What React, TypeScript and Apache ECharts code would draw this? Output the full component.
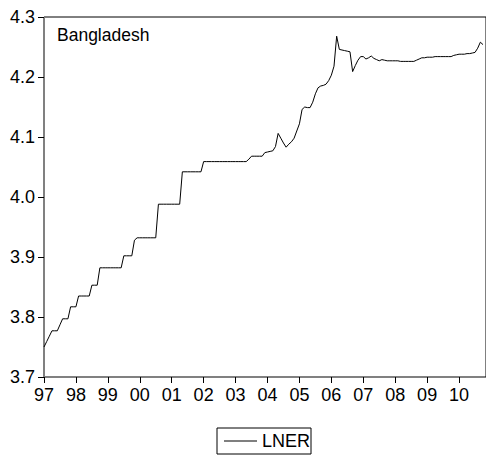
import React, { useEffect, useRef } from "react";
import * as echarts from "echarts";

const seriesName = "LNER";
const title = "Bangladesh";
const startYear = 1997;
const yTicks = [3.7, 3.8, 3.9, 4.0, 4.1, 4.2, 4.3];

// Monthly values, January..December per year
const v1997 = [3.750, 3.759, 3.768, 3.777, 3.777, 3.777, 3.787, 3.797, 3.797, 3.797, 3.817, 3.817];
const v1998 = [3.817, 3.835, 3.835, 3.835, 3.835, 3.835, 3.853, 3.853, 3.853, 3.882, 3.882, 3.882];
const v1999 = [3.882, 3.882, 3.882, 3.882, 3.882, 3.882, 3.902, 3.902, 3.902, 3.902, 3.928, 3.932];
const v2000 = [3.932, 3.932, 3.932, 3.932, 3.932, 3.932, 3.932, 3.988, 3.988, 3.988, 3.988, 3.988];
const v2001 = [3.988, 3.988, 3.988, 3.988, 4.042, 4.042, 4.042, 4.042, 4.042, 4.042, 4.042, 4.042];
const v2002 = [4.059, 4.059, 4.059, 4.059, 4.059, 4.059, 4.059, 4.059, 4.059, 4.059, 4.059, 4.059];
const v2003 = [4.059, 4.059, 4.059, 4.059, 4.059, 4.063, 4.068, 4.068, 4.068, 4.068, 4.068, 4.074];
const v2004 = [4.075, 4.076, 4.077, 4.084, 4.106, 4.098, 4.090, 4.083, 4.088, 4.092, 4.098, 4.110];
const v2005 = [4.122, 4.146, 4.150, 4.149, 4.149, 4.158, 4.172, 4.182, 4.185, 4.186, 4.188, 4.194];
const v2006 = [4.203, 4.218, 4.268, 4.246, 4.245, 4.244, 4.243, 4.242, 4.209, 4.219, 4.228, 4.234];
const v2007 = [4.234, 4.230, 4.232, 4.235, 4.231, 4.229, 4.227, 4.229, 4.228, 4.227, 4.227, 4.227];
const v2008 = [4.227, 4.227, 4.226, 4.226, 4.226, 4.226, 4.226, 4.226, 4.228, 4.230, 4.232, 4.232];
const v2009 = [4.233, 4.233, 4.233, 4.234, 4.234, 4.234, 4.234, 4.234, 4.234, 4.234, 4.236, 4.237];
const v2010 = [4.238, 4.238, 4.238, 4.239, 4.239, 4.240, 4.241, 4.248, 4.258, 4.254];

const years = [v1997, v1998, v1999, v2000, v2001, v2002, v2003, v2004, v2005, v2006, v2007, v2008, v2009, v2010];

const FONT = "'Liberation Sans', Arial, sans-serif";

export default function App() {
  const ref = useRef<HTMLDivElement>(null);
  useEffect(() => {
    if (!ref.current) return;
    const chart = echarts.init(ref.current, undefined, { renderer: "svg" });
    const data: [number, number][] = [];
    years.forEach((arr, yi) => {
      arr.forEach((v, m) => data.push([startYear + yi + m / 12, v]));
    });
    chart.setOption({
      animation: false,
      backgroundColor: "#ffffff",
      grid: {
        left: 44,
        top: 17,
        right: -1,
        bottom: 80,
        show: true,
        borderColor: "#000",
        borderWidth: 1,
        backgroundColor: "transparent",
      },
      xAxis: {
        type: "value",
        min: 1997,
        max: 2010.84375,
        interval: 1,
        axisLine: { show: true, lineStyle: { color: "#808080", width: 1 } },
        axisTick: { show: true, inside: false, length: 6, lineStyle: { color: "#000" } },
        splitLine: { show: false },
        axisLabel: {
          color: "#000",
          fontSize: 18,
          fontFamily: FONT,
          margin: 9,
          showMaxLabel: false,
          formatter: (v: number) => String(Math.round(v) % 100).padStart(2, "0"),
        },
      },
      yAxis: {
        type: "value",
        min: yTicks[0],
        max: yTicks[yTicks.length - 1],
        interval: 0.1,
        axisLine: { show: true, lineStyle: { color: "#808080", width: 1 } },
        axisTick: { show: true, inside: false, length: 6, lineStyle: { color: "#000" } },
        splitLine: { show: false },
        axisLabel: {
          color: "#000",
          fontSize: 18,
          fontFamily: FONT,
          margin: 9,
          formatter: (v: number) => v.toFixed(1),
        },
      },
      legend: {
        show: true,
        left: 217,
        top: 428,
        orient: "horizontal",
        padding: [4, 1, 4, 7],
        borderColor: "#000",
        borderWidth: 1,
        borderRadius: 0,
        itemWidth: 33,
        itemHeight: 1,
        itemGap: 0,
        icon: "rect",
        textStyle: { color: "#000", fontSize: 18, fontFamily: FONT, padding: [0, 0, 0, 0] },
        data: [{ name: seriesName }],
      },
      graphic: [
        {
          type: "text",
          left: 57,
          top: 26,
          style: { text: title, fontSize: 17.5, fontFamily: FONT, fill: "#000" },
        },
      ],
      series: [
        {
          name: seriesName,
          type: "line",
          data,
          symbol: "none",
          showSymbol: false,
          lineStyle: { color: "#000", width: 1 },
          itemStyle: { color: "#000" },
        },
      ],
    });
    return () => chart.dispose();
  }, []);
  return (
    <div
      ref={ref}
      style={{ position: "absolute", left: 0, top: 0, width: 486, height: 457 }}
    />
  );
}
